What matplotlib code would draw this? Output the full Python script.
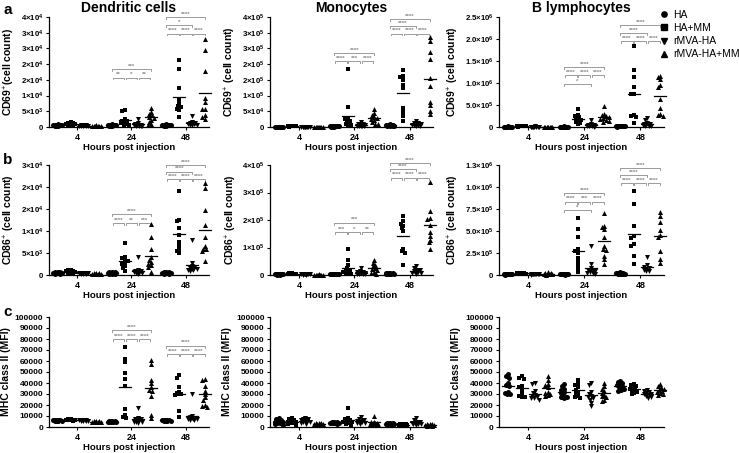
import numpy as np
import matplotlib
matplotlib.use("Agg")
import matplotlib.pyplot as plt
from matplotlib.lines import Line2D
import matplotlib.transforms as mtrans

plt.rcParams['font.family'] = ['Liberation Sans', 'DejaVu Sans']
plt.rcParams['mathtext.fontset'] = 'custom'
plt.rcParams['mathtext.rm'] = 'Liberation Sans'
plt.rcParams['mathtext.bf'] = 'Liberation Sans:bold'

# ---------------- data ----------------
groups = ['HA', 'HA+MM', 'rMVA-HA', 'rMVA-HA+MM']
times = ['4', '24', '48']
cell_types = ['Dendritic cells', 'Monocytes', 'B lymphocytes']

# Dendritic cells CD69+
dc69_4h = [[400, 500, 600, 700, 500, 400, 600, 800, 300, 500],
           [600, 900, 1200, 1500, 800, 700, 1000, 1300, 500, 1100],
           [300, 400, 500, 600, 700, 400, 500, 300, 600, 400],
           [200, 300, 400, 500, 300, 400, 200, 300]]
dc69_24h = [[300, 400, 500, 600, 700, 800, 500, 400, 600, 500],
            [5500, 5000, 2500, 2000, 1800, 1500, 1200, 900, 700, 600],
            [2700, 1200, 900, 700, 600, 500, 400, 400, 300, 300],
            [6200, 4800, 4200, 3700, 3200, 3000, 2300, 1600, 1000, 500]]
dc69_48h = [[300, 400, 500, 600, 700, 800, 500, 400, 600, 500],
            [21200, 18500, 12400, 8500, 7400, 6600, 6400, 5800, 5300, 3200],
            [3500, 1700, 1400, 1200, 1000, 900, 800, 700, 600, 500],
            [28000, 24600, 17700, 9300, 8000, 5800, 5800, 3700, 3200, 2600]]
# Monocytes CD69+
mo69_4h = [[800, 1000, 1200, 900, 1100, 700, 1300, 1000, 900, 1100],
           [1500, 2000, 2500, 1800, 2200, 1700, 2300, 1900, 2100, 1600],
           [800, 1000, 1200, 900, 1100, 700, 1300, 1000, 900, 1100],
           [400, 500, 600, 500, 400, 600, 500, 400]]
mo69_24h = [[1000, 1500, 2000, 2500, 3000, 1200, 1800, 2200, 1600, 2400],
            [183000, 64000, 27000, 24000, 20000, 17000, 11000, 9000, 5000, 3000],
            [15000, 10000, 8000, 6000, 5000, 4000, 3000, 3000, 2000, 2000],
            [57000, 45000, 38000, 32000, 30000, 27000, 22000, 16000, 11000, 9000]]
mo69_48h = [[3000, 4000, 5000, 6000, 7000, 8000, 4500, 5500, 3500, 6500],
            [180000, 162000, 158000, 148000, 135000, 125000, 60000, 48000, 35000, 20000],
            [18000, 14000, 12000, 10000, 8000, 7000, 6000, 5000, 4000, 3000],
            [285000, 275000, 240000, 215000, 155000, 130000, 80000, 70000, 50000, 40000]]
# B lymphocytes CD69+
b69_4h = [[5000, 8000, 10000, 12000, 6000, 9000, 7000, 11000, 8000, 10000],
          [10000, 15000, 20000, 25000, 12000, 18000, 22000, 14000, 16000, 30000],
          [5000, 8000, 10000, 12000, 6000, 9000, 7000, 11000, 8000, 10000],
          [4000, 6000, 8000, 5000, 7000, 6000, 5000, 4000]]
b69_24h = [[5000, 8000, 10000, 12000, 6000, 9000, 7000, 11000, 8000, 10000],
           [410000, 280000, 250000, 220000, 190000, 170000, 140000, 120000, 90000, 60000],
           [160000, 70000, 50000, 40000, 35000, 30000, 25000, 20000, 15000, 10000],
           [470000, 300000, 270000, 240000, 220000, 200000, 180000, 160000, 140000, 120000]]
b69_48h = [[10000, 15000, 20000, 25000, 12000, 18000, 22000, 14000, 16000, 30000],
           [1830000, 1300000, 1130000, 920000, 750000, 740000, 270000, 240000, 220000, 100000],
           [210000, 160000, 90000, 70000, 60000, 50000, 40000, 30000, 25000, 20000],
           [1170000, 1130000, 1090000, 950000, 920000, 630000, 440000, 300000, 270000, 250000]]
# Dendritic cells CD86+
dc86_4h = [[300, 400, 500, 600, 700, 500, 400, 600, 500, 300],
           [300, 500, 700, 900, 1100, 1200, 600, 800, 400, 1000],
           [300, 400, 500, 400, 300, 500, 400, 300, 400, 500],
           [200, 300, 400, 500, 300, 400, 200, 300]]
dc86_24h = [[200, 300, 400, 500, 600, 700, 400, 500, 300, 600],
            [7200, 4200, 3800, 3500, 3200, 2800, 2400, 2000, 1500, 900],
            [4200, 1200, 1000, 800, 700, 600, 500, 400, 400, 300],
            [11500, 8600, 6000, 4000, 3500, 3000, 2600, 2200, 1800, 700]]
dc86_48h = [[300, 400, 500, 600, 700, 500, 400, 600, 500, 300],
            [19100, 12500, 12200, 10700, 9000, 7500, 6500, 5800, 5400, 5000],
            [7900, 2800, 2000, 1700, 1500, 1400, 1300, 1200, 1100, 1000],
            [20900, 19700, 14800, 11300, 8600, 6500, 6000, 5800, 5400, 3200]]
# Monocytes CD86+
mo86_4h = [[1000, 2000, 3000, 4000, 2500, 1500, 3500, 2000, 3000, 2500],
           [2000, 3000, 4000, 5000, 6000, 2500, 3500, 4500, 5500, 3000],
           [1000, 2000, 3000, 4000, 2500, 1500, 3500, 2000, 3000, 2500],
           [500, 1000, 1500, 2000, 1000, 1500, 500, 1000]]
mo86_24h = [[2000, 3000, 4000, 5000, 2500, 3500, 4500, 3000, 4000, 3500],
            [93000, 55000, 35000, 25000, 20000, 15000, 12000, 8000, 5000, 3000],
            [25000, 15000, 12000, 10000, 8000, 6000, 5000, 4000, 3000, 2000],
            [55000, 45000, 38000, 32000, 27000, 22000, 18000, 12000, 8000, 5000]]
mo86_48h = [[3000, 4000, 5000, 6000, 7000, 8000, 4500, 5500, 3500, 6500],
            [213000, 195000, 187000, 180000, 171000, 160000, 96000, 87000, 81000, 35000],
            [32000, 25000, 20000, 18000, 15000, 13000, 11000, 9000, 7000, 5000],
            [337000, 232000, 208000, 202000, 183000, 157000, 142000, 129000, 119000, 96000]]
# B lymphocytes CD86+
b86_4h = [[5000, 8000, 10000, 12000, 6000, 9000, 7000, 11000, 8000, 10000],
          [10000, 15000, 20000, 25000, 12000, 18000, 22000, 14000, 16000, 28000],
          [5000, 8000, 10000, 12000, 6000, 9000, 7000, 11000, 8000, 10000],
          [5000, 10000, 15000, 20000, 30000, 8000, 12000, 18000]]
b86_24h = [[5000, 8000, 10000, 12000, 15000, 9000, 7000, 11000, 13000, 10000],
           [650000, 520000, 430000, 290000, 270000, 250000, 195000, 160000, 110000, 75000, 30000],
           [330000, 120000, 80000, 60000, 50000, 40000, 30000, 25000, 20000, 15000],
           [710000, 560000, 540000, 520000, 430000, 330000, 300000, 280000, 220000, 180000, 120000]]
b86_48h = [[10000, 15000, 20000, 25000, 12000, 18000, 22000, 14000, 16000, 30000],
           [950000, 810000, 560000, 440000, 420000, 350000, 330000, 215000, 120000],
           [200000, 110000, 95000, 85000, 70000, 60000, 50000, 40000],
           [719000, 666000, 602000, 516000, 459000, 433000, 271000, 177000, 139000]]
# Dendritic cells MHC class II
dcm_4h = [[5500, 6000, 6500, 5800, 6200, 5700, 6300, 6000, 5900, 6100],
          [6000, 6500, 7000, 6200, 6800, 6400, 6600, 7200, 5800, 6300],
          [5500, 6000, 6500, 5800, 6200, 5700, 6300, 6000, 5600, 6100],
          [4500, 5000, 5500, 4800, 5200, 4700, 5300, 5000]]
dcm_24h = [[4500, 5000, 5500, 4800, 5200, 4700, 5300, 5000, 4900, 5100],
           [73000, 62000, 59000, 49000, 44000, 37000, 16000, 11000, 9000, 8000],
           [17000, 8000, 7000, 7000, 6000, 6000, 5000, 5000, 5000, 4000],
           [61000, 57000, 43000, 40000, 36000, 34000, 33000, 28000, 11000, 8000]]
dcm_48h = [[5500, 6000, 6500, 5800, 6200, 5700, 6300, 6000, 5900, 6100],
           [47000, 45000, 36000, 32000, 31000, 30000, 30000, 29000, 15000, 9000],
           [30000, 10000, 9000, 8000, 8000, 7000, 7000, 7000, 6000, 6000],
           [44000, 43000, 37000, 33000, 30000, 27000, 25000, 20000, 19000, 18000]]
# Monocytes MHC class II
mom_4h = [[2000, 3000, 4000, 5000, 6000, 7000, 8000, 3500, 4500, 5500],
          [2000, 3000, 4000, 5000, 6000, 7000, 8000, 3500, 4500, 5500],
          [3000, 4000, 5000, 6000, 7000, 8000, 4500, 5500, 6500, 7500],
          [2000, 2500, 3000, 3500, 4000, 2500, 3000, 3500]]
mom_24h = [[3000, 3500, 4000, 4500, 5000, 3200, 3800, 4200, 4800, 4000],
           [17000, 8000, 7000, 6000, 5000, 4000, 3000, 2000, 5500, 4500],
           [9000, 7000, 6000, 5000, 4000, 3000, 5500, 4500, 6500, 3500],
           [10000, 5000, 4000, 3000, 2000, 3500, 4500, 2500, 3000, 4000]]
mom_48h = [[2000, 2500, 3000, 3500, 4000, 2200, 2800, 3200, 3800, 3000],
           [1000, 1500, 2000, 2500, 3000, 1200, 1800, 2200, 2800, 2000],
           [8000, 6000, 5000, 4000, 3000, 2000, 3500, 4500, 2500, 3000],
           [1000, 1500, 2000, 2500, 3000, 1200, 1800, 2200, 2800, 2000]]
# B lymphocytes MHC class II
bm_4h = [[48000, 46000, 45000, 40000, 38000, 37000, 32000, 31000, 30000, 30000],
         [46000, 45000, 44000, 37000, 36000, 33000, 30000, 28000, 27000, 27000],
         [40000, 39000, 33000, 31000, 29000, 28000, 27000, 26000, 25000, 26000],
         [46000, 43000, 39000, 38000, 36000, 32000, 31000, 30000, 29000, 28000]]
bm_24h = [[39000, 37000, 35000, 34000, 32000, 31000, 28000, 27000, 27000, 26000],
          [43000, 39000, 38000, 36000, 34000, 32000, 30000, 28000, 27000, 26000],
          [40000, 38000, 32000, 30000, 28000, 27000, 26000, 25000, 22000, 19000],
          [40000, 37000, 35000, 33000, 31000, 29000, 28000, 27000, 25000, 24000]]
bm_48h = [[42000, 41000, 40000, 39000, 38000, 37000, 36000, 35000, 34000, 33000],
          [39000, 38000, 37000, 36000, 35000, 34000, 33000, 32000, 31000, 30000],
          [34000, 33000, 32000, 31000, 30000, 30000, 29000, 28000, 27000, 26000],
          [39000, 37000, 36000, 35000, 34000, 33000, 32000, 31000, 30000, 29000]]

# tick values / labels ('m|e' means m x 10^e)
dc69_ticks = [0, 5000, 10000, 15000, 20000, 25000, 30000, 35000]
dc69_labels = ['0', '5|3', '1|4', '2|4', '2|4', '3|4', '3|4', '4|4']
mo69_ticks = [0, 50000, 100000, 150000, 200000, 250000, 300000, 350000]
mo69_labels = ['0', '5|4', '1|5', '2|5', '2|5', '3|5', '3|5', '4|5']
b69_ticks = [0, 500000, 1000000, 1500000, 2000000, 2500000]
b69_labels = ['0', '5.0|5', '1.0|6', '1.5|6', '2.0|6', '2.5|6']
dc86_ticks = [0, 5000, 10000, 15000, 20000, 25000]
dc86_labels = ['0', '5|3', '1|4', '2|4', '2|4', '3|4']
mo86_ticks = [0, 100000, 200000, 300000, 400000]
mo86_labels = ['0', '1|5', '2|5', '3|5', '4|5']
b86_ticks = [0, 250000, 500000, 750000, 1000000, 1250000]
b86_labels = ['0', '2.5|5', '5.0|5', '7.5|5', '1.0|6', '1.3|6']
mhc_ticks = [0, 10000, 20000, 30000, 40000, 50000, 60000, 70000, 80000, 90000, 100000]
mhc_labels = [str(v) for v in mhc_ticks]

# significance brackets: (time index, col a, col b, height as axes fraction, text)
dc69_sig = [(1, 0, 3, 0.524, '***'), (1, 0, 1, 0.45, '**'), (1, 1, 2, 0.45, '*'), (1, 2, 3, 0.45, '**'),
            (2, 0, 3, 0.997, '****'), (2, 0, 2, 0.927, '*'),
            (2, 0, 1, 0.85, '****'), (2, 1, 2, 0.85, '****'), (2, 2, 3, 0.85, '****')]
mo69_sig = [(1, 0, 3, 0.67, '****'), (1, 0, 1, 0.60, '****'), (1, 1, 2, 0.60, '***'), (1, 2, 3, 0.60, '****'),
            (2, 0, 3, 0.98, '****'), (2, 0, 2, 0.92, '****'),
            (2, 0, 1, 0.85, '****'), (2, 1, 2, 0.85, '****'), (2, 2, 3, 0.85, '****')]
b69_sig = [(1, 0, 3, 0.548, '****'), (1, 0, 1, 0.473, '****'), (1, 1, 2, 0.473, '****'), (1, 2, 3, 0.473, '****'),
           (1, 0, 2, 0.388, '*'),
           (2, 0, 3, 0.924, '****'), (2, 0, 2, 0.852, '****'),
           (2, 0, 1, 0.782, '****'), (2, 1, 2, 0.782, '****'), (2, 2, 3, 0.782, '****')]
dc86_sig = [(1, 0, 3, 0.552, '****'), (1, 0, 1, 0.47, '****'), (1, 1, 2, 0.47, '**'), (1, 2, 3, 0.47, '***'),
            (2, 0, 3, 1.0, '****'), (2, 0, 2, 0.94, '****'),
            (2, 0, 1, 0.87, '****'), (2, 1, 2, 0.87, '****'), (2, 2, 3, 0.87, '****')]
mo86_sig = [(1, 0, 3, 0.476, '***'), (1, 0, 1, 0.394, '***'), (1, 1, 2, 0.394, '*'), (1, 2, 3, 0.394, '**'),
            (2, 0, 3, 1.02, '****'), (2, 0, 2, 0.96, '****'),
            (2, 0, 1, 0.885, '****'), (2, 1, 2, 0.885, '****'), (2, 2, 3, 0.885, '****')]
b86_sig = [(1, 0, 3, 0.748, '****'), (1, 0, 1, 0.667, '****'), (1, 1, 2, 0.667, '***'), (1, 2, 3, 0.667, '****'),
           (1, 0, 2, 0.59, '*'),
           (2, 0, 3, 0.975, '****'), (2, 0, 2, 0.91, '****'),
           (2, 0, 1, 0.833, '****'), (2, 1, 2, 0.833, '****'), (2, 2, 3, 0.833, '****')]
dcm_sig = [(1, 0, 3, 0.883, '****'), (1, 0, 1, 0.80, '****'), (1, 1, 2, 0.80, '****'), (1, 2, 3, 0.80, '****'),
           (2, 0, 3, 0.74, '****'), (2, 0, 1, 0.664, '****'), (2, 1, 2, 0.664, '****'), (2, 2, 3, 0.664, '****')]

panels = [
    [(dc69_4h, dc69_24h, dc69_48h, dc69_ticks, dc69_labels, 'CD69$^{+}$(cell count)', dc69_sig),
     (mo69_4h, mo69_24h, mo69_48h, mo69_ticks, mo69_labels, 'CD69$^{+}$ (cell count)', mo69_sig),
     (b69_4h, b69_24h, b69_48h, b69_ticks, b69_labels, 'CD69$^{+}$ (cell count)', b69_sig)],
    [(dc86_4h, dc86_24h, dc86_48h, dc86_ticks, dc86_labels, 'CD86$^{+}$ (cell count)', dc86_sig),
     (mo86_4h, mo86_24h, mo86_48h, mo86_ticks, mo86_labels, 'CD86$^{+}$ (cell count)', mo86_sig),
     (b86_4h, b86_24h, b86_48h, b86_ticks, b86_labels, 'CD86$^{+}$ (cell count)', b86_sig)],
    [(dcm_4h, dcm_24h, dcm_48h, mhc_ticks, mhc_labels, 'MHC class II (MFI)', dcm_sig),
     (mom_4h, mom_24h, mom_48h, mhc_ticks, mhc_labels, 'MHC class II (MFI)', []),
     (bm_4h, bm_24h, bm_48h, mhc_ticks, mhc_labels, 'MHC class II (MFI)', [])],
]

# ---------------- layout ----------------
W, H = 739, 453
fig = plt.figure(figsize=(W / 100, H / 100), dpi=100)
col_left = [48.7, 270, 499]
col_width = [160, 163, 165]
row_top = [17, 165, 317]
row_h = 110
markers = ['o', 's', 'v', '^']
msizes = [13, 11, 13, 13]
col_off = [-0.357, -0.119, 0.119, 0.357]
XLIM = (-0.52, 2.42)
GREY = '#8a8a8a'


def fmt_label(s):
    if '|' not in s:
        return s
    m, e = s.split('|')
    return r'$\mathbf{%s{\times}10^{%s}}$' % (m, e)


def swarm_x(ax, xc, vals, dmin=2.8, maxoff=4.2, step=0.7):
    t0 = ax.transData.transform((0, 0))
    ppx = ax.transData.transform((1, 0))[0] - t0[0]
    ppy = ax.transData.transform((0, 1))[1] - t0[1]
    vals = np.asarray(vals, float)
    order = np.argsort(-vals)
    cand = sorted(np.arange(-maxoff, maxoff + 1e-9, step), key=lambda c: (abs(c), c))
    placed = []
    xs = np.zeros(len(vals))
    for i in order:
        yp = vals[i] * ppy
        chosen, bestc, bestd = None, 0.0, -1.0
        for c in cand:
            if not placed:
                chosen = c
                break
            d = min(np.hypot(c - px, yp - py) for px, py in placed)
            if d >= dmin:
                chosen = c
                break
            if d > bestd:
                bestd, bestc = d, c
        if chosen is None:
            chosen = bestc
        placed.append((chosen, yp))
        xs[i] = xc + chosen / ppx
    return xs, ppx


for r in range(3):
    for c in range(3):
        d4, d24, d48, yt, ytl, ylab, sig = panels[r][c]
        ax = fig.add_axes([col_left[c] / W, 1 - (row_top[r] + row_h) / H,
                           col_width[c] / W, row_h / H])
        ax.set_xlim(*XLIM)
        ax.set_ylim(0, yt[-1])
        for sp in ['top', 'right']:
            ax.spines[sp].set_visible(False)
        for sp in ['left', 'bottom']:
            ax.spines[sp].set_linewidth(0.9)
        ax.set_yticks(yt)
        is_sci = any('|' in s for s in ytl)
        ax.set_yticklabels([fmt_label(s) for s in ytl], fontsize=5.6 if is_sci else 6,
                           fontweight='bold')
        ax.set_xticks(range(3))
        ax.set_xticklabels(times, fontsize=6.5, fontweight='bold')
        ax.tick_params(axis='both', direction='out', length=2.5, width=0.8, pad=1.5)
        ax.tick_params(axis='x', pad=2)
        ax.set_ylabel(ylab, fontsize=7.5, fontweight='bold', labelpad=2.5)
        ax.text(0.5, -0.145, 'Hours post injection', transform=ax.transAxes,
                ha='center', va='top', fontsize=6.8, fontweight='bold')
        for ti, dat in enumerate([d4, d24, d48]):
            for gi, vals in enumerate(dat):
                xc = ti + col_off[gi]
                xs, ppx = swarm_x(ax, xc, vals)
                ax.scatter(xs, vals, marker=markers[gi], s=msizes[gi], color='black',
                           linewidths=0, clip_on=False, zorder=3)
                mval = np.mean(vals)
                hw = 6.0 / ppx
                ax.plot([xc - hw, xc + hw], [mval, mval], color='black', lw=0.9,
                        clip_on=False, zorder=4)
        trans = mtrans.blended_transform_factory(ax.transData, ax.transAxes)
        for (ti, a, b, yf, txt) in sig:
            x0 = ti + col_off[a]
            x1 = ti + col_off[b]
            if b - a == 1:
                x0 += 0.012
                x1 -= 0.012
            tk = 0.018
            ax.plot([x0, x0, x1, x1], [yf - tk, yf, yf, yf - tk], color=GREY, lw=0.6,
                    transform=trans, clip_on=False, zorder=2)
            ax.text((x0 + x1) / 2, yf + 0.002, txt, transform=trans, ha='center', va='bottom',
                    fontsize=4.5, color=GREY, fontweight='bold')
        if r == 0:
            ax.text(0.5, 1 + 9.0 / row_h, cell_types[c], transform=ax.transAxes,
                    ha='center', va='center', fontsize=10, fontweight='bold')

for lab, yp in zip(['a', 'b', 'c'], [10, 160, 312]):
    fig.text(3 / W, 1 - yp / H, lab, fontsize=11, fontweight='bold', va='center', ha='left')

handles = [Line2D([], [], marker=m, color='black', linestyle='none', markersize=3.8)
           for m in markers]
fig.legend(handles, groups, loc='upper left', bbox_to_anchor=(659 / W, 1 - 10 / H),
           frameon=False, fontsize=7.5, handlelength=0.9, handletextpad=0.5,
           labelspacing=0.3, borderaxespad=0, borderpad=0)

fig.savefig('out.png', dpi=100)
